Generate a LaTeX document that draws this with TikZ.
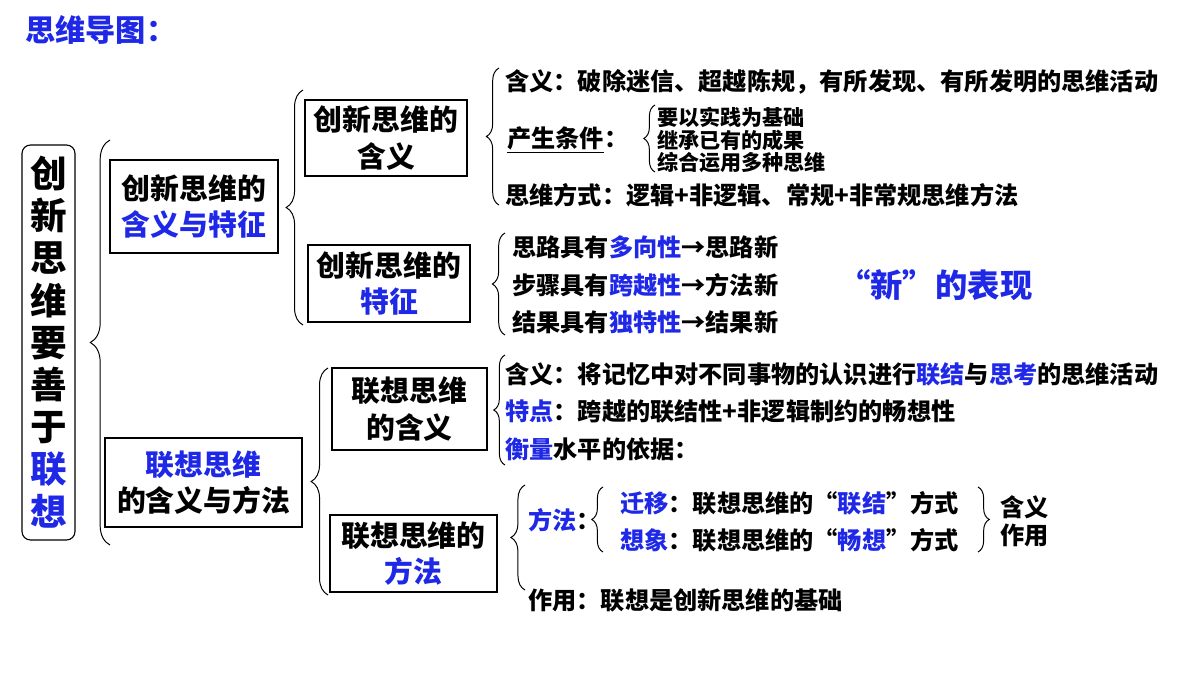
\documentclass[tikz,border=0pt]{standalone}
\usepackage{fontspec}
\setmainfont{Noto Sans CJK SC}
\usetikzlibrary{decorations.pathreplacing,positioning}
\definecolor{hlblue}{RGB}{30,40,230}
\newcommand{\hl}[1]{\textcolor{hlblue}{#1}}
\tikzset{
  txt/.style={anchor=west,inner sep=0pt,font=\fontsize{17.2}{20}\selectfont\bfseries},
  small/.style={anchor=west,inner sep=0pt,font=\fontsize{15}{17}\selectfont\bfseries},
  topic/.style={draw=black,line width=0.8pt,align=center,inner sep=0pt,
    font=\fontsize{20.5}{26}\selectfont\bfseries},
  br/.style={decorate,decoration={brace,amplitude=#1},line width=0.7pt},
  br/.default=10pt
}
\begin{document}
\begin{tikzpicture}[x=0.025cm,y=-0.025cm]
\useasboundingbox (0,0) rectangle (1200,675);

% title
\node[anchor=west,inner sep=0pt,text=hlblue,font=\fontsize{21.5}{26}\selectfont\bfseries] (title) at (25,30) {思维导图：};

% root
\draw[rounded corners=6pt,line width=0.8pt] (22,145) rectangle (75,540);
\node[align=center,inner sep=0pt,font=\fontsize{26}{30}\selectfont\bfseries] (root) at (48.5,342)
  {创\\新\\思\\维\\要\\善\\于\\\hl{联}\\\hl{想}};
\draw[br=14pt] (110,545) -- (110,140);

% level 1
\draw[line width=0.8pt] (110,160) rectangle (278,253);
\node[topic,draw=none] (c1) at (194,206.5) {创新思维的\\\hl{含义与特征}};
\draw[line width=0.8pt] (105,438) rectangle (302,527);
\node[topic,draw=none] (c2) at (203.5,482.5) {\hl{联想思维}\\的含义与方法};

% level 2 (creative)
\draw[br=12pt] (303,325) -- (303,90);
\draw[line width=0.8pt] (305,100) rectangle (467,176);
\node[topic,draw=none] (c11) at (386,138) {创新思维的\\含义};
\draw[line width=0.8pt] (308,245) rectangle (470,322);
\node[topic,draw=none] (c12) at (389,283.5) {创新思维的\\\hl{特征}};

% level 2 (association)
\draw[br=12pt] (328,595) -- (328,368);
\draw[line width=0.8pt] (332,368) rectangle (487,450);
\node[topic,draw=none] (c21) at (409.5,409) {联想思维\\的含义};
\draw[line width=0.8pt] (330,515) rectangle (497,592);
\node[topic,draw=none] (c22) at (413.5,553.5) {联想思维的\\\hl{方法}};

% meaning of creative thinking
\draw[br=9pt] (499,205) -- (499,68);
\node[txt] (m1) at (505,82) {含义：破除迷信、超越陈规，有所发现、有所发明的思维活动};
\node[txt] (m2) at (507,140) {\underline{产生条件}：};
\draw[br=8pt] (655,172) -- (655,105);
\node[small] (m21) at (657,117) {要以实践为基础};
\node[small] (m22) at (657,140) {继承已有的成果};
\node[small] (m23) at (657,163) {综合运用多种思维};
\node[txt] (m3) at (505,195) {思维方式：逻辑+非逻辑、常规+非常规思维方法};

% features
\draw[br=9pt] (505,335) -- (505,233);
\node[txt] (f1) at (512,247) {思路具有\hl{多向性}→思路新};
\node[txt] (f2) at (512,285) {步骤具有\hl{跨越性}→方法新};
\node[txt] (f3) at (512,322) {结果具有\hl{独特性}→结果新};
\node[anchor=west,inner sep=0pt,text=hlblue,font=\fontsize{23}{27}\selectfont\bfseries] (new) at (838,285) {“新”的表现};

% meaning of association
\draw[br=8pt] (505,465) -- (505,355);
\node[txt] (a1) at (505,374) {含义：将记忆中对不同事物的认识进行\hl{联结}与\hl{思考}的思维活动};
\node[txt] (a2) at (505,411) {\hl{特点}：跨越的联结性+非逻辑制约的畅想性};
\node[txt] (a3) at (505,449) {\hl{衡量}水平的依据：};

% methods
\draw[br=10pt] (525,590) -- (525,485);
\node[txt] (w) at (528,520) {\hl{方法}：};
\draw[br=8pt] (603,552) -- (603,487);
\node[txt] (w1) at (620,503) {\hl{迁移}：联想思维的“\hl{联结}”方式};
\node[txt] (w2) at (620,540) {\hl{想象}：联想思维的“\hl{畅想}”方式};
\draw[br=8pt] (978,487) -- (978,552);
\node[txt] (u1) at (1000,507) {含义};
\node[txt] (u2) at (1000,535) {作用};
\node[txt] (u) at (528,600) {作用：联想是创新思维的基础};
\end{tikzpicture}
\end{document}
